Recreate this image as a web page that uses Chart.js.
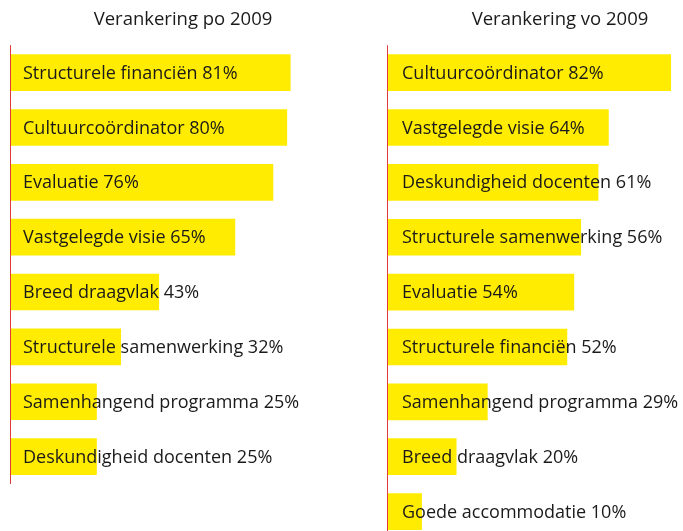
<!DOCTYPE html>
<html>
<head>
<meta charset="utf-8">
<script src="https://cdn.jsdelivr.net/npm/chart.js@4"></script>
<style>
  html, body { margin: 0; padding: 0; background: #fff; overflow: hidden; width: 683px; height: 531px; }
  .box { position: absolute; top: 0; width: 360px; }
  #left { left: 0; height: 531px; }
  #right { left: 380px; height: 540px; }
</style>
</head>
<body>
<div class="box" id="left"><canvas id="poChart"></canvas></div>
<div class="box" id="right"><canvas id="voChart"></canvas></div>
<script>
const poLabels = ['Structurele financiën', 'Cultuurcoördinator', 'Evaluatie', 'Vastgelegde visie', 'Breed draagvlak', 'Structurele samenwerking', 'Samenhangend programma', 'Deskundigheid docenten'];
const poValues = [81, 80, 76, 65, 43, 32, 25, 25];

const voLabels = ['Cultuurcoördinator', 'Vastgelegde visie', 'Deskundigheid docenten', 'Structurele samenwerking', 'Evaluatie', 'Structurele financiën', 'Samenhangend programma', 'Breed draagvlak', 'Goede accommodatie'];
const voValues = [82, 64, 61, 56, 54, 52, 29, 20, 10];

const FONT = '"Open Sans", "Noto Sans", sans-serif';

// red zero line + label text inside the bars
const barText = {
    id: 'barText',
    afterDatasetsDraw(chart, args, opts) {
        const { ctx, chartArea, scales } = chart;
        const x0 = Math.round(scales.x.getPixelForValue(0)) + 0.5;
        ctx.save();
        ctx.strokeStyle = '#e2383c';
        ctx.lineWidth = 1;
        ctx.beginPath();
        ctx.moveTo(x0, chartArea.top);
        ctx.lineTo(x0, chartArea.bottom);
        ctx.stroke();

        ctx.font = '18px ' + FONT;
        ctx.fillStyle = '#1a1a1a';
        ctx.textBaseline = 'middle';
        const meta = chart.getDatasetMeta(0);
        meta.data.forEach((bar, i) => {
            const txt = `${chart.data.labels[i]} ${chart.data.datasets[0].data[i]}%`;
            ctx.fillText(txt, bar.base + opts.offset, bar.y + 1);
        });
        ctx.restore();
    }
};

function makeChart(id, title, labels, values, pad, offset) {
    return new Chart(document.getElementById(id), {
        type: 'bar',
        data: { labels, datasets: [{ data: values, backgroundColor: '#ffec00', barThickness: 36 }] },
        options: {
            indexAxis: 'y',
            responsive: true,
            maintainAspectRatio: false,
            animation: false,
            layout: { padding: pad },
            scales: {
                x: { display: false, min: 0, max: 100 },
                y: { display: false }
            },
            plugins: {
                legend: { display: false },
                tooltip: { enabled: false },
                title: {
                    display: true, text: title, color: '#1a1a1a',
                    font: { family: FONT, size: 18.5, weight: 'normal' },
                    padding: { top: 9, bottom: 14 }
                },
                barText: { offset }
            }
        },
        plugins: [barText]
    });
}

makeChart('poChart', 'Verankering po 2009', poLabels, poValues, { left: 10, right: 4, bottom: 47 }, 13);
makeChart('voChart', 'Verankering vo 2009', voLabels, voValues, { left: 7, right: 7, bottom: 1 }, 15);
</script>
</body>
</html>
